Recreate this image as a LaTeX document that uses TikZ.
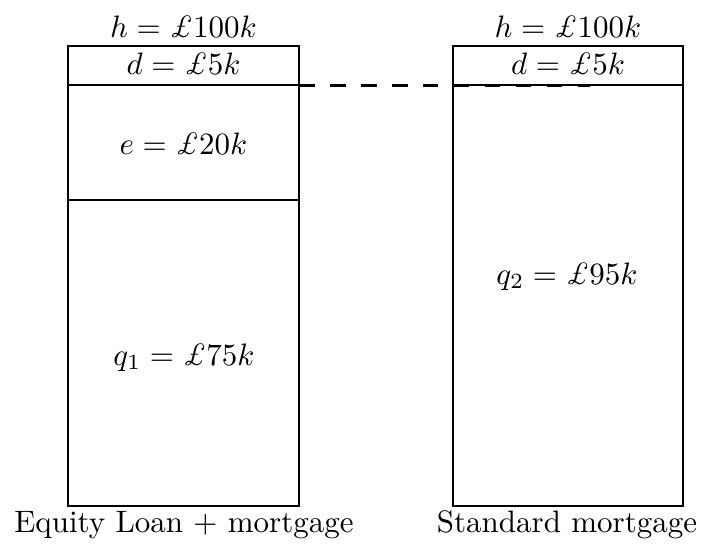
\documentclass[tikz,border=0pt]{standalone}
\begin{document}
\begin{tikzpicture}[x=0.3226pt,y=-0.3226pt,
  boxline/.style={line width=0.7pt},
  dashline/.style={line width=0.95pt,dash pattern=on 5pt off 5pt},
  lbl/.style={anchor=base,inner sep=0pt,outer sep=0pt}]
\useasboundingbox (0,0) rectangle (703,549);
% left box
\coordinate (LNW) at (68,46);
\coordinate (LSE) at (299,506);
\coordinate (LdW) at (68,85);
\coordinate (LdE) at (299,85);
\coordinate (LeW) at (68,200);
\coordinate (LeE) at (299,200);
% right box
\coordinate (RNW) at (453,46);
\coordinate (RSE) at (683,506);
\coordinate (RdW) at (453,85);
\coordinate (RdE) at (683,85);
\coordinate (Dend) at (590,85.3);
\coordinate (Dstart) at (299,85.3);
\draw[boxline] (LNW) rectangle (LSE);
\draw[boxline] (LdW) -- (LdE);
\draw[boxline] (LeW) -- (LeE);
\draw[boxline] (RNW) rectangle (RSE);
\draw[boxline] (RdW) -- (RdE);
\draw[dashline] (Dstart) -- (Dend);
% texts
\node[lbl] (hL) at (183.5,37) {$h=\pounds100k$};
\node[lbl] (dL) at (183.5,74) {$d=\pounds5k$};
\node[lbl] (eL) at (183.5,154) {$e=\pounds20k$};
\node[lbl] (qL) at (184,365) {$q_1=\pounds75k$};
\node[lbl] (hR) at (568,37) {$h=\pounds100k$};
\node[lbl] (dR) at (568,74) {$d=\pounds5k$};
\node[lbl] (qR) at (567,284) {$q_2=\pounds95k$};
\node[lbl] (tL) at (184,532) {Equity Loan $+$ mortgage};
\node[lbl] (tR) at (567,532) {Standard mortgage};
\end{tikzpicture}
\end{document}
